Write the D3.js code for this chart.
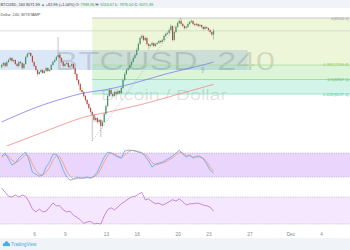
<!DOCTYPE html>
<html>
<head>
<meta charset="utf-8">
<script src="https://cdnjs.cloudflare.com/ajax/libs/d3/7.8.5/d3.min.js"></script>
<style>
  body { margin: 0; background: #fff; }
  svg { display: block; font-family: "Liberation Sans", Arial, sans-serif; }
</style>
</head>
<body>
<div id="chart"></div>
<script>
// ---- values: BTCUSD, 4h bars, Bitstamp ----
var barStart = new Date(2017, 10, 2, 20);   // first bar on screen
var barHours = 4;

// [open, high, low, close]
var candles = [
  [7250,7320,7220,7297],[7297,7370,7270,7342],[7342,7360,7240,7274],[7274,7390,7250,7365],
  [7365,7440,7340,7410],[7410,7480,7390,7456],[7456,7470,7360,7388],[7388,7430,7350,7410],
  [7410,7420,7290,7319],[7319,7340,7240,7274],[7274,7390,7250,7365],[7365,7390,7310,7342],
  [7342,7360,7190,7228],[7228,7340,7200,7319],[7319,7500,7300,7478],[7478,7580,7460,7546],
  [7546,7600,7520,7569],[7569,7590,7480,7501],[7501,7520,7340,7365],[7365,7380,7250,7274],
  [7274,7300,7150,7183],[7183,7200,7040,7092],[7092,7170,7070,7137],[7137,7210,7110,7183],
  [7183,7200,7090,7115],[7115,7190,7100,7160],[7160,7250,7140,7228],[7228,7240,7130,7160],
  [7160,7210,7140,7183],[7183,7320,7170,7297],[7297,7390,7280,7365],[7365,7440,7350,7410],
  [7410,7500,7390,7478],[7478,7932,7460,7524],[7524,7560,7430,7456],[7456,7470,7330,7365],
  [7365,7390,7240,7274],[7274,7350,7250,7319],[7319,7370,7300,7342],[7342,7360,7220,7251],
  [7251,7300,7230,7274],[7274,7340,7260,7319],[7319,7330,7200,7228],[7228,7240,7060,7092],
  [7092,7110,6920,6956],[6956,6980,6820,6865],[6865,6890,6690,6729],[6729,6780,6650,6683],
  [6683,6700,6560,6593],[6593,6620,6460,6502],[6502,6530,6380,6411],[6411,6440,6280,6320],
  [6320,6350,6190,6229],[6229,6260,5570.2,6161],[6161,6180,6000,6048],[6048,6130,6010,6093],
  [6093,6110,5960,6002],[6002,6080,5970,6048],[6048,6070,5661,5911],[5911,6040,5880,6002],
  [6002,6220,5980,6184],[6184,6400,6160,6366],[6366,6630,6340,6593],[6593,6780,6570,6729],
  [6729,6760,6610,6638],[6638,6660,6560,6593],[6593,6710,6570,6683],[6683,6700,6600,6638],
  [6638,6740,6620,6706],[6706,6720,6630,6661],[6661,6800,6640,6774],[6774,6990,6750,6956],
  [6956,7130,6930,7092],[7092,7220,7070,7183],[7183,7260,7160,7228],[7228,7330,7200,7297],
  [7297,7400,7270,7365],[7365,7490,7340,7456],[7456,7560,7430,7524],[7524,7680,7500,7637],
  [7637,7810,7610,7774],[7774,7950,7750,7910],[7910,7990,7880,7955],[7955,7980,7830,7864],
  [7864,7940,7840,7910],[7910,7930,7740,7774],[7774,7790,7650,7728],[7728,7780,7700,7751],
  [7751,7830,7730,7796],[7796,7810,7700,7728],[7728,7800,7710,7774],[7774,7820,7750,7796],
  [7796,7870,7780,7842],[7842,7860,7790,7819],[7819,7890,7800,7864],[7864,7990,7840,7955],
  [7955,8040,7930,8001],[8001,8060,7980,8023],[8023,8130,8000,8091],[8091,8220,8070,8182],
  [8182,8200,7830,7864],[7864,8080,7840,8046],[8046,8190,8020,8160],[8160,8280,8140,8250],
  [8250,8330,8230,8296],[8296,8364,8200,8228],[8228,8250,8150,8182],[8182,8200,8100,8137],
  [8137,8190,8110,8160],[8160,8260,8140,8228],[8228,8300,8210,8273],[8273,8330,8250,8296],
  [8296,8310,8200,8228],[8228,8250,8170,8205],[8205,8260,8190,8228],[8228,8240,8150,8182],
  [8182,8230,8160,8205],[8205,8220,8130,8160],[8160,8180,8080,8114],[8114,8190,8100,8160],
  [8160,8170,8110,8137],[8137,8150,8060,8091],[8091,8110,8010,8046],[8046,8060,7950,7989],
  [7988.96,8116.67,7876.00,8071.99]
];

// moving averages, sampled at these bars
var maBars = [0, 12, 24, 36, 48, 60, 72, 84, 96, 108, 120, 124];
var maBlue = [6002, 6207, 6388, 6536, 6661, 6729, 6831, 6956, 7092, 7206, 7319, 7365];
var maRed  = [5412, 5591, 5768, 5948, 6111, 6207, 6311, 6422, 6552, 6683, 6813, 6856];

// oscillators, one value every 2nd bar
var stochK = [72,80,65,50,55,67,75,82,62,32,27,22,25,45,57,77,77,60,37,20,12,15,20,17,17,20,17,22,32,52,70,82,
              80,75,70,67,85,87,87,85,82,80,72,60,45,52,55,57,62,67,72,80,87,77,70,75,67,72,72,65,52,37,30];
var stochD = [70,75,72,62,56,60,68,76,72,52,36,27,24,32,44,62,74,70,55,35,22,15,16,18,18,18,18,20,26,40,58,74,
              80,78,72,68,75,82,86,86,84,81,76,68,56,51,52,55,58,63,68,75,82,80,74,73,70,70,70,67,58,45,35];
var rsi    = [83,77,71,70,73,70,73,71,63,52,48,52,48,49,55,61,57,57,51,48,49,43,40,36,31,33,34,30,31,30,42,51,
              54,51,55,60,63,67,70,71,74,77,66,67,63,60,61,58,60,63,66,64,67,63,58,60,60,61,60,58,57,55,49];
var stochBand = [20, 80];
var rsiBand = [30, 70];

// fibonacci retracement drawn from the Nov 12 low to the Nov 21 high
var fibLevels = [0, 0.382, 0.5, 0.618];
var fibHigh = 8364.0, fibLow = 5570.2;
var fibLowBar = 53, fibHighBar = 105;

// resistance zone (blue box)
var zoneTop = 7637, zoneBottom = 7183;
var zoneEnd = new Date(2017, 10, 26, 20);

var lastClose = 8071.99;

var tickDates = [new Date(2017,10,6), new Date(2017,10,9), new Date(2017,10,13), new Date(2017,10,16),
                 new Date(2017,10,20), new Date(2017,10,23), new Date(2017,10,27), new Date(2017,11,1),
                 new Date(2017,11,4)];
var tickLabels = ["6", "9", "13", "16", "20", "23", "27", "Dec", "4"];

// ---- drawing ----
var svgWidth = 350;
var svgHeight = 250;

var svg = d3.select("#chart")
  .append("svg")
  .attr("width", svgWidth)
  .attr("height", svgHeight);

function barTime(i) {
  return new Date(barStart.getTime() + i * barHours * 3600e3);
}

var x = d3.scaleTime()
  .domain([new Date(2017, 10, 2, 16), new Date(2017, 11, 6, 19, 30)])
  .range([0, svgWidth]);

var y = d3.scaleLinear().domain([fibLow, fibHigh]).range([141, 18]);
var yS = d3.scaleLinear().domain([0, 100]).range([185, 145]);
var yR = d3.scaleLinear().domain([rsiBand[0], rsiBand[1]]).range([224, 197]);

var defs = svg.append("defs");
defs.append("clipPath").attr("id", "mainClip")
  .append("rect").attr("x", 0).attr("y", 8).attr("width", svgWidth).attr("height", 138);

// top and bottom bars
svg.append("rect").attr("width", svgWidth).attr("height", 8).attr("fill", "#f0f3f8");
svg.append("rect").attr("y", 238).attr("width", svgWidth).attr("height", 12).attr("fill", "#f0f3f8");

var main = svg.append("g").attr("clip-path", "url(#mainClip)");

// fib zones
var fibPrice = fibLevels.map(l => fibHigh - l * (fibHigh - fibLow));
var fibFill = ["#eef6d9", "#dcf4d8", "#d3f4e8"];
var fibLine = ["#bdbdbd", "#aedc9c", "#93d6a0", "#8fe0c8"];
var fibText = ["#a0a0a0", "#93c85a", "#5cbf6a", "#4cc8a8"];
var fx0 = x(barTime(fibLowBar));

for (var k = 0; k < fibPrice.length - 1; k++) {
  main.append("rect")
    .attr("x", fx0).attr("y", y(fibPrice[k]))
    .attr("width", svgWidth - fx0).attr("height", y(fibPrice[k + 1]) - y(fibPrice[k]))
    .attr("fill", fibFill[k]);
}

// resistance zone
main.append("rect")
  .attr("x", 0).attr("y", y(zoneTop))
  .attr("width", x(zoneEnd)).attr("height", y(zoneBottom) - y(zoneTop))
  .attr("fill", "rgba(50,120,205,0.18)");

// watermark
main.append("text")
  .attr("x", 165).attr("y", 70)
  .attr("text-anchor", "middle")
  .attr("font-size", 26)
  .attr("textLength", 220).attr("lengthAdjust", "spacingAndGlyphs")
  .attr("fill", "rgba(0,0,0,0.12)")
  .text("BTCUSD, 240");
main.append("text")
  .attr("x", 164).attr("y", 100)
  .attr("text-anchor", "middle")
  .attr("font-size", 14)
  .attr("textLength", 126).attr("lengthAdjust", "spacingAndGlyphs")
  .attr("fill", "rgba(0,0,0,0.12)")
  .text("Bitcoin / Dollar");

fibPrice.forEach(function(p, k) {
  main.append("line")
    .attr("x1", fx0).attr("x2", svgWidth)
    .attr("y1", y(p)).attr("y2", y(p))
    .attr("stroke", fibLine[k]).attr("stroke-width", 0.8);
  main.append("text")
    .attr("x", 349).attr("y", y(p) + 1.5)
    .attr("text-anchor", "end")
    .attr("font-size", 4.2)
    .attr("fill", fibText[k])
    .text(fibLevels[k] + "(" + p.toFixed(1) + ")");
});

// last price line
main.append("line")
  .attr("x1", 0).attr("x2", svgWidth)
  .attr("y1", y(lastClose)).attr("y2", y(lastClose))
  .attr("stroke", "#c9cfc4").attr("stroke-width", 0.7);

// fib trend line
main.append("line")
  .attr("x1", fx0).attr("y1", y(fibLow))
  .attr("x2", x(barTime(fibHighBar))).attr("y2", y(fibHigh))
  .attr("stroke", "#9a9a9a").attr("stroke-width", 0.6)
  .attr("stroke-dasharray", "1,1.5");

// moving averages
var maLine = function(vals) {
  return d3.line()
    .x((d, i) => x(barTime(maBars[i])))
    .y(d => y(d))
    .curve(d3.curveMonotoneX)(vals);
};
main.append("path").attr("d", maLine(maBlue))
  .attr("fill", "none").attr("stroke", "#7d7cf0").attr("stroke-width", 0.8);
main.append("path").attr("d", maLine(maRed))
  .attr("fill", "none").attr("stroke", "#f08a84").attr("stroke-width", 0.8);

// candles
var candleG = main.append("g");
candleG.selectAll("line.wick")
  .data(candles)
  .enter()
  .append("line")
  .attr("class", "wick")
  .attr("x1", (d, i) => x(barTime(i)))
  .attr("x2", (d, i) => x(barTime(i)))
  .attr("y1", d => y(d[1]))
  .attr("y2", d => y(d[2]))
  .attr("stroke", "#8a8a8c")
  .attr("stroke-width", 0.5);

candleG.selectAll("rect.body")
  .data(candles)
  .enter()
  .append("rect")
  .attr("class", "body")
  .attr("x", (d, i) => x(barTime(i)) - 0.6)
  .attr("width", 1.2)
  .attr("y", d => y(Math.max(d[0], d[3])))
  .attr("height", d => Math.max(0.6, Math.abs(y(d[0]) - y(d[3]))))
  .attr("fill", d => d[3] >= d[0] ? "#3f9a68" : "#c4493c");

// header texts
var head = svg.append("text")
  .attr("x", 0.5).attr("y", 6)
  .attr("font-size", 3.85)
  .attr("fill", "#333");
head.append("tspan").text("BTCUSD, 240  8071.99 ");
head.append("tspan").attr("fill", "#2fa24a").text("\u25B2");
head.append("tspan").text(" +82.99 (+1.04%)  O: ");
head.append("tspan").attr("fill", "#2fa24a").text("7988.96");
head.append("tspan").text("  H: ");
head.append("tspan").attr("fill", "#2fa24a").text("8116.67");
head.append("tspan").text("  L: ");
head.append("tspan").attr("fill", "#2fa24a").text("7876.00");
head.append("tspan").text("  C: ");
head.append("tspan").attr("fill", "#2fa24a").text("8071.99");

svg.append("text")
  .attr("x", 0.5).attr("y", 15.5)
  .attr("font-size", 3.9)
  .attr("fill", "#555")
  .text("Dollar, 240, BITSTAMP");

// stochastic RSI panel
svg.append("rect")
  .attr("x", 0).attr("y", yS(stochBand[1]))
  .attr("width", svgWidth).attr("height", yS(stochBand[0]) - yS(stochBand[1]))
  .attr("fill", "#ead5fd");
stochBand.forEach(function(v) {
  svg.append("line")
    .attr("x1", 0).attr("x2", svgWidth).attr("y1", yS(v)).attr("y2", yS(v))
    .attr("stroke", "#a9a4b4").attr("stroke-width", 0.6).attr("stroke-dasharray", "1.2,1.2");
});
var oscX = (d, i) => x(barTime(2 * i));
svg.append("path")
  .attr("d", d3.line().x(oscX).y(d => yS(d))(stochD))
  .attr("fill", "none").attr("stroke", "#f3a07a").attr("stroke-width", 0.9);
svg.append("path")
  .attr("d", d3.line().x(oscX).y(d => yS(d))(stochK))
  .attr("fill", "none").attr("stroke", "#6aaef0").attr("stroke-width", 0.9);

// RSI panel
svg.append("rect")
  .attr("x", 0).attr("y", yR(rsiBand[1]))
  .attr("width", svgWidth).attr("height", yR(rsiBand[0]) - yR(rsiBand[1]))
  .attr("fill", "#f4e7fe");
rsiBand.forEach(function(v) {
  svg.append("line")
    .attr("x1", 0).attr("x2", svgWidth).attr("y1", yR(v)).attr("y2", yR(v))
    .attr("stroke", "#b5abc0").attr("stroke-width", 0.6).attr("stroke-dasharray", "1.2,1.2");
});
svg.append("path")
  .attr("d", d3.line().x(oscX).y(d => yR(d))(rsi))
  .attr("fill", "none").attr("stroke", "#c47ad8").attr("stroke-width", 0.9);

// time axis
var xAxis = d3.axisBottom(x)
  .tickValues(tickDates)
  .tickFormat((d, i) => tickLabels[i])
  .tickSize(0)
  .tickPadding(3);
var axisG = svg.append("g")
  .attr("transform", "translate(0, 229.5)")
  .call(xAxis);
axisG.select(".domain").remove();
axisG.selectAll("text")
  .attr("font-size", 4.8)
  .attr("font-family", "Liberation Sans, Arial, sans-serif")
  .attr("fill", "#8a8a8a");

// TradingView badge
var logo = svg.append("g").attr("fill", "#45b0e5");
logo.append("circle").attr("cx", 4.5).attr("cy", 244.5).attr("r", 1.6);
logo.append("circle").attr("cx", 6.5).attr("cy", 243.3).attr("r", 2);
logo.append("circle").attr("cx", 8.5).attr("cy", 244.6).attr("r", 1.5);
logo.append("rect").attr("x", 3).attr("y", 244.5).attr("width", 7).attr("height", 1.6);
svg.append("text")
  .attr("x", 11).attr("y", 246.3)
  .attr("font-size", 4.6)
  .attr("fill", "#4ea6dc")
  .text("TradingView");
</script>
</body>
</html>
